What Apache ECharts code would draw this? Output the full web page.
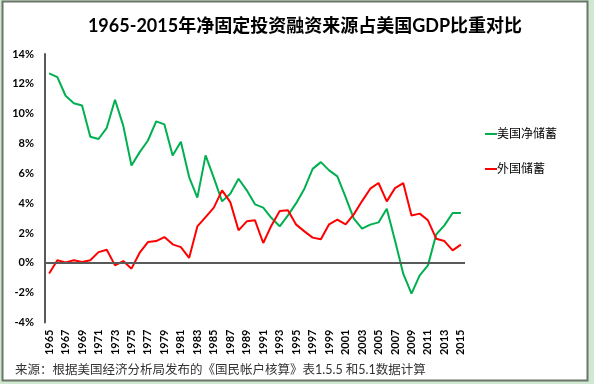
<!DOCTYPE html>
<html>
<head>
<meta charset="utf-8">
<script src="https://cdn.jsdelivr.net/npm/echarts@6/dist/echarts.min.js"></script>
<style>
html,body{margin:0;padding:0;background:#cfe8cf;}
#chart{width:594px;height:384px;}
</style>
</head>
<body>
<div id="chart"></div>
<script>
var years = ['1965','1966','1967','1968','1969','1970','1971','1972','1973','1974','1975','1976','1977','1978','1979','1980','1981','1982','1983','1984','1985','1986','1987','1988','1989','1990','1991','1992','1993','1994','1995','1996','1997','1998','1999','2000','2001','2002','2003','2004','2005','2006','2007','2008','2009','2010','2011','2012','2013','2014','2015'];
var usNetSaving = [12.7,12.45,11.2,10.7,10.55,8.45,8.3,9.05,10.93,9.2,6.53,7.42,8.2,9.48,9.28,7.2,8.12,5.75,4.37,7.2,5.7,4.12,4.63,5.64,4.86,3.92,3.7,3.0,2.45,3.18,4.0,4.97,6.3,6.75,6.2,5.8,4.4,2.96,2.29,2.56,2.71,3.63,1.5,-0.73,-2.06,-0.84,-0.17,1.9,2.51,3.34,3.34];
var foreignSaving = [-0.72,0.17,0.03,0.17,0.05,0.17,0.72,0.88,-0.17,0.12,-0.39,0.68,1.39,1.46,1.73,1.24,1.05,0.33,2.44,3.07,3.7,4.86,4.07,2.18,2.78,2.85,1.33,2.51,3.47,3.52,2.56,2.11,1.69,1.58,2.58,2.89,2.58,3.25,4.14,4.97,5.35,4.12,5.01,5.35,3.18,3.3,2.85,1.62,1.46,0.84,1.22];
var seriesNames = ['美国净储蓄','外国储蓄'];
var yTicks = {min:-4, max:14, interval:2};
var titleText = '1965-2015年净固定投资融资来源占美国GDP比重对比';
var sourceText = '来源：根据美国经济分析局发布的《国民帐户核算》表1.5.5 和5.1数据计算';

var FONT = 'Lato, "Noto Sans CJK SC", sans-serif';
var chart = echarts.init(document.getElementById('chart'), null, {renderer:'canvas'});
chart.setOption({
  backgroundColor:'#cfe8cf',
  animation:false,
  graphic:[
    {type:'rect', z:-10, shape:{x:2.5,y:1.5,width:585,height:379}, style:{fill:'#ffffff', stroke:'#6b756b', lineWidth:2}},
    {type:'text', x:305, y:26, style:{text:titleText, font:'bold 18px '+FONT, fill:'#000', textAlign:'center', textVerticalAlign:'middle'}},
    {type:'text', x:15, y:370, style:{text:sourceText, font:'12.5px '+FONT, fill:'#333', textAlign:'left', textVerticalAlign:'middle'}}
  ],
  grid:{left:45, right:129, top:54, bottom:61.5, containLabel:false},
  legend:{
    orient:'vertical', left:480, top:123, itemGap:23, itemWidth:12, itemHeight:2,
    icon:'rect', data:seriesNames,
    textStyle:{fontSize:12, color:'#000', fontFamily:FONT, padding:[0,0,0,-5]}
  },
  xAxis:{
    type:'category', data:years, boundaryGap:true,
    axisLine:{show:false}, axisTick:{show:false},
    axisLabel:{interval:1, rotate:90, fontSize:11, fontWeight:'bold', color:'#000', fontFamily:FONT, margin:7}
  },
  yAxis:{
    type:'value', min:yTicks.min, max:yTicks.max, interval:yTicks.interval,
    axisLine:{show:true, lineStyle:{color:'#595959', width:2}},
    axisTick:{show:false}, splitLine:{show:false},
    axisLabel:{formatter:'{value}%', fontSize:11, fontWeight:'bold', color:'#000', fontFamily:FONT, margin:11}
  },
  series:[
    {name:seriesNames[0], type:'line', data:usNetSaving, symbol:'none', lineStyle:{color:'#00b050', width:2}, itemStyle:{color:'#00b050'},
     markLine:{silent:true, symbol:'none', label:{show:false}, lineStyle:{color:'#595959', width:2, type:'solid'}, data:[{yAxis:0}]}, z:3},
    {name:seriesNames[1], type:'line', data:foreignSaving, symbol:'none', lineStyle:{color:'#ff0000', width:2}, itemStyle:{color:'#ff0000'}, z:4}
  ]
});
</script>
</body>
</html>
